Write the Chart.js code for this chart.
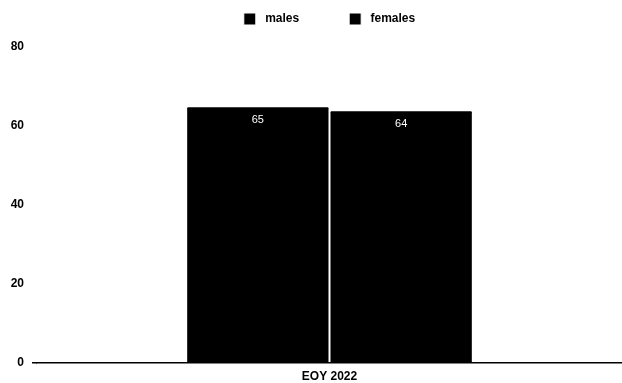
<!DOCTYPE html>
<html>
<head>
<meta charset="utf-8">
<script src="https://cdn.jsdelivr.net/npm/chart.js@4.4.0/dist/chart.umd.min.js"></script>
<style>
  html, body { margin: 0; padding: 0; background: #fff; }
  #wrap { width: 622px; height: 383px; }
</style>
</head>
<body>
<div id="wrap"><canvas id="chart" width="622" height="383"></canvas></div>
<script>
const categories = ['EOY 2022'];
const males = [65];
const females = [64];
const yTicks = [0, 20, 40, 60, 80];

const FONT = '"Liberation Sans", Arial, sans-serif';

// White value labels drawn inside the top of each bar
const barValueLabels = {
  id: 'barValueLabels',
  afterDatasetsDraw(chart) {
    const ctx = chart.ctx;
    ctx.save();
    ctx.fillStyle = '#ffffff';
    ctx.font = '11px ' + FONT;
    ctx.textAlign = 'center';
    ctx.textBaseline = 'top';
    chart.data.datasets.forEach((ds, i) => {
      chart.getDatasetMeta(i).data.forEach((bar, j) => {
        ctx.fillText(String(ds.data[j]), bar.x, bar.y + 8);
      });
    });
    ctx.restore();
  }
};

new Chart(document.getElementById('chart'), {
  type: 'bar',
  data: {
    labels: categories,
    datasets: [
      { label: 'males', data: males, backgroundColor: '#000000', borderColor: '#ffffff', borderWidth: 1, borderRadius: 2 },
      { label: 'females', data: females, backgroundColor: '#000000', borderColor: '#ffffff', borderWidth: 1, borderRadius: 2 }
    ]
  },
  options: {
    responsive: false,
    animation: false,
    layout: { padding: { left: 0, right: 0, top: 3, bottom: 0 } },
    datasets: { bar: { categoryPercentage: 0.49, barPercentage: 1.0 } },
    plugins: {
      legend: {
        position: 'top',
        fullSize: false,
        labels: {
          color: '#000',
          boxWidth: 12,
          boxHeight: 12,
          padding: 10,
          font: { family: FONT, size: 12, weight: 'bold' },
          generateLabels(chart) {
            const items = Chart.defaults.plugins.legend.labels.generateLabels(chart);
            // wider spacing between the two legend entries
            items.forEach((it, i) => {
              it.text = ' ' + it.text + (i === 0 ? '            ' : '');
            });
            return items;
          }
        }
      },
      // empty spacer between the legend and the plot
      title: {
        display: true,
        text: '',
        weight: 500,
        padding: 0,
        font: { size: 10 }
      },
      tooltip: { enabled: false }
    },
    scales: {
      x: {
        afterFit(scale) { scale.height = 20; },
        grid: { display: false, drawTicks: false },
        border: { display: true, color: '#000', width: 1.5 },
        ticks: { color: '#000', padding: 6, font: { family: FONT, size: 12, weight: 'bold' } }
      },
      y: {
        min: 0,
        max: 80,
        afterFit(scale) { scale.width = 37; },
        afterBuildTicks(scale) { scale.ticks = yTicks.map(v => ({ value: v })); },
        grid: {
          drawOnChartArea: false,
          drawTicks: true,
          tickLength: 5,
          color: ctx => (ctx.tick && ctx.tick.value === 0 ? '#000' : 'rgba(0,0,0,0)'),
          lineWidth: 1.5
        },
        border: { display: false },
        ticks: { color: '#000', padding: 8, font: { family: FONT, size: 12, weight: 'bold' } }
      }
    }
  },
  plugins: [barValueLabels]
});
</script>
</body>
</html>
